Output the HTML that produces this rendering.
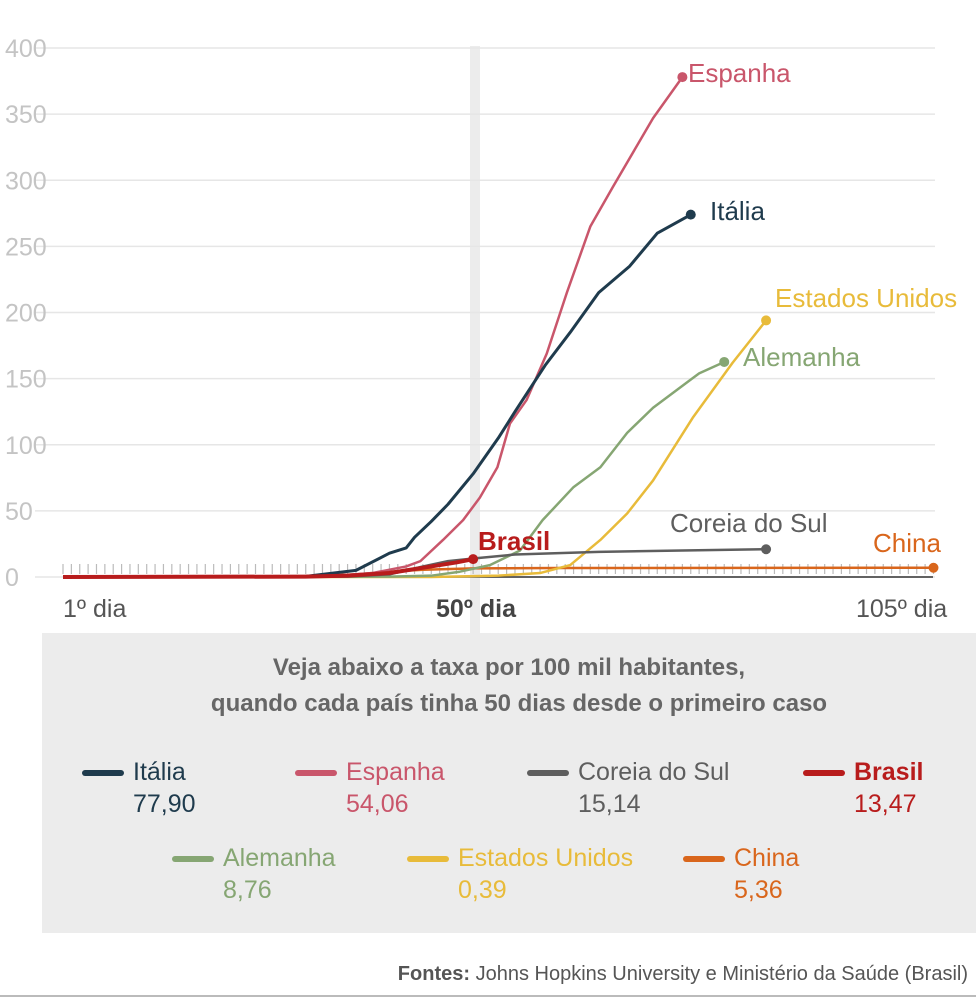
<!DOCTYPE html>
<html><head><meta charset="utf-8"><style>
html,body{margin:0;padding:0;background:#fff;}
svg{display:block;font-family:"Liberation Sans",sans-serif;}
</style></head><body>
<svg id="chart" width="976" height="998" viewBox="0 0 976 998" xmlns="http://www.w3.org/2000/svg">
<rect x="470" y="46" width="10" height="590" fill="#ececec"/>
<g id="grid"></g><g id="ticks"></g><g id="series"></g><g id="labels"></g>
<text x="63" y="617" font-size="25" fill="#555">1º dia</text>
<text x="436" y="617" font-size="25" font-weight="bold" fill="#444">50º dia</text>
<text x="856" y="617" font-size="25" fill="#555">105º dia</text>
<rect x="42" y="633" width="934" height="300" fill="#ececec"/>
<text x="509" y="675" font-size="24" font-weight="bold" fill="#666" text-anchor="middle">Veja abaixo a taxa por 100 mil habitantes,</text>
<text x="519" y="711" font-size="24" font-weight="bold" fill="#666" text-anchor="middle">quando cada país tinha 50 dias desde o primeiro caso</text>
<g id="legend"></g>
<text x="968" y="980" font-size="20" fill="#555" text-anchor="end"><tspan font-weight="bold">Fontes:</tspan> Johns Hopkins University e Ministério da Saúde (Brasil)</text>
<line x1="0" y1="996" x2="976" y2="996" stroke="#bbb" stroke-width="2"/>
</svg>
<script>
const yTicks=[0,50,100,150,200,250,300,350,400];
const itDays=[1,30,36,40,42,43,45,47,50,53,55,58.6,61.6,65,68.7,72,76];
const itVals=[0,0.5,5,18,22,30,42,55,78,105,125,160,185,215,235,260,274];
const esDays=[1,32,38,42,43.7,46.4,48.8,50.8,52.9,54.4,56.4,58.8,61.2,64,66.7,71.5,75];
const esVals=[0,0.2,3,8,12,28,43,60,83,116,134,169,215,265,295,347,378];
const deDays=[1,40,45,48.4,52,55.6,58.3,62,65.2,68.4,71.5,77,80];
const deVals=[0,0.3,1,4,9,20,43,68,83,109,128,154,162.6];
const usDays=[1,45,53,58,61.6,65.2,68.4,71.5,76.3,81,85];
const usVals=[0,0,1,3,9,28,48,73,121,162,194];
const krDays=[1,35,40,44,47,50,55,65,75,85];
const krVals=[0,0.3,2,8,12,14,17,19,20,21];
const brDays=[1,30,35,40,42,45,48,50];
const brVals=[0,0.3,1,3,5,8,11,13.5];
const cnDays=[1,30,36,40,44,50,60,105];
const cnVals=[0,0.5,2,4,5.5,6.5,6.8,7];
const NS="http://www.w3.org/2000/svg";
const X=d=>63+(d-1)*8.37, Y=v=>577-v*1.3225;
function mk(tag,attrs,parent){const e=document.createElementNS(NS,tag);for(const k in attrs)e.setAttribute(k,attrs[k]);parent.appendChild(e);return e;}
const grid=document.getElementById('grid');
yTicks.forEach(t=>{
 const l=mk('line',{x1:35,x2:935,y1:Y(t),y2:Y(t),stroke:'#e6e6e6','stroke-width':1.5},grid);
 
 
 const tx=mk('text',{x:5,y:Y(t)+9,'font-size':25,fill:'#c4c4c4'},grid);tx.textContent=t;
 
 
});
const tk=document.getElementById('ticks');
for(let d=1;d<=105;d++){const l=mk('line',{x1:X(d),x2:X(d),y1:564,y2:574,stroke:'#bbb','stroke-width':1.2},tk);
 
 }
const base=mk('line',{x1:63,x2:933,y1:577,y2:577,stroke:'#333','stroke-width':1.5},tk);


const S=document.getElementById('series'),L=document.getElementById('labels');
const series=[
 ['china',cnDays,cnVals,'#d9661c',2.5],['eua',usDays,usVals,'#e8bb3a',2.5],['alemanha',deDays,deVals,'#86a673',2.5],
 ['coreia',krDays,krVals,'#5e5e5e',2.5],['espanha',esDays,esVals,'#c9566b',2.5],['italia',itDays,itVals,'#1f3b4d',3],['brasil',brDays,brVals,'#b81c1c',4]];
series.forEach(([n,ds,vs,c,w])=>{
 const p=mk('polyline',{points:ds.map((d,i)=>X(d)+','+Y(vs[i])).join(' '),fill:'none',stroke:c,'stroke-width':w,'stroke-linejoin':'round'},S);
 
 
 const last=ds.length-1;
 const dot=mk('circle',{cx:X(ds[last]),cy:Y(vs[last]),r:5,fill:c},S);
 
 
});
const lab=[['Espanha',688,82,'#c9566b',''],['Itália',710,220,'#1f3b4d',''],['Estados Unidos',775,307,'#e8bb3a',''],['Alemanha',743,366,'#86a673',''],['Coreia do Sul',670,532,'#5e5e5e',''],['China',873,552,'#d9661c',''],['Brasil',478,550,'#b81c1c','bold']];
lab.forEach(([t,x,y,c,fw])=>{const e=mk('text',{x:x,y:y,'font-size':26,fill:c,'font-weight':fw||'normal'},L);e.textContent=t;
 
 });
const G=document.getElementById('legend');
const leg=[['Itália','77,90',85,'#1f3b4d',''],['Espanha','54,06',298,'#c9566b',''],['Coreia do Sul','15,14',530,'#5e5e5e',''],['Brasil','13,47',806,'#b81c1c','bold'],
 ['Alemanha','8,76',175,'#86a673',''],['Estados Unidos','0,39',410,'#e8bb3a',''],['China','5,36',686,'#d9661c','']];
leg.forEach(([t,v,x,c,fw],i)=>{
 const y=i<4?779:865;
 const g=mk('g',{},G);
 
 
 mk('line',{x1:x,x2:x+36,y1:y-6,y2:y-6,stroke:c,'stroke-width':6,'stroke-linecap':'round'},g);
 const a=mk('text',{x:x+48,y:y+1,'font-size':25,fill:c,'font-weight':fw||'normal'},g);a.textContent=t;
 const b=mk('text',{x:x+48,y:y+33,'font-size':25,fill:c},g);b.textContent=v;
});
</script>
</body></html>
